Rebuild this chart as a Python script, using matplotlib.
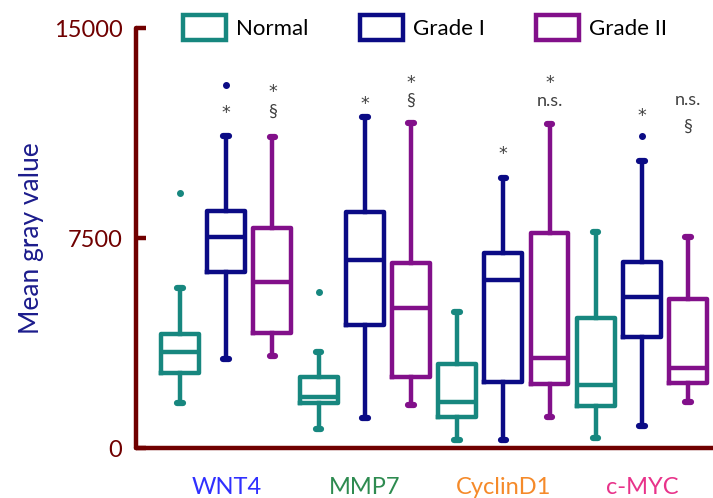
import matplotlib.pyplot as plt
from matplotlib.patches import Patch
import matplotlib.transforms as mtransforms

plt.rcParams['font.family'] = ['Lato', 'DejaVu Sans']

genes = ['WNT4', 'MMP7', 'CyclinD1', 'c-MYC']
gene_colors = ['#3030ff', '#2e8b50', '#f58a2a', '#e8338a']
groups = ['Normal', 'Grade I', 'Grade II']
group_colors = ['#17877f', '#0b0b85', '#82108a']

# box stats, order: WNT4 (N, GI, GII), MMP7 (...), CyclinD1 (...), c-MYC (...)
whislo = [1600, 3200, 3300, 700, 1070, 1540, 290, 290, 1100, 360, 790, 1640]
q1 = [2700, 6300, 4100, 1620, 4400, 2540, 1100, 2360, 2290, 1500, 3960, 2320]
med = [3430, 7540, 5930, 1820, 6710, 5000, 1640, 6000, 3210, 2250, 5390, 2860]
q3 = [4070, 8460, 7860, 2540, 8430, 6610, 3000, 6960, 7680, 4640, 6640, 5320]
whishi = [5710, 11140, 11110, 3430, 11820, 11610, 4860, 9640, 11570, 7710, 10250, 7540]
fliers = [[9100], [12960], [], [5570], [], [], [], [], [], [], [11140], []]

# significance marks above the boxes: (box index, text, y)
marks = [
    (1, '*', 12150),
    (2, '*', 12930), (2, '§', 12000),
    (4, '*', 12500),
    (5, '*', 13250), (5, '§', 12390),
    (7, '*', 10710),
    (8, '*', 13250), (8, 'n.s.', 12390),
    (10, '*', 12070),
    (11, 'n.s.', 12430), (11, '§', 11460),
]

fig = plt.figure(figsize=(7.13, 4.98), dpi=100)
ax = fig.add_axes([0.191, 0.1, 0.809, 0.8436])

axis_col = '#700000'
lw = 3.2

for i in range(12):
    c = group_colors[i % 3]
    st = [{'whislo': whislo[i], 'q1': q1[i], 'med': med[i], 'q3': q3[i],
           'whishi': whishi[i], 'fliers': fliers[i]}]
    ax.bxp(st, positions=[i + 1], widths=0.82, capwidths=0.12,
           boxprops=dict(color=c, linewidth=lw, solid_joinstyle='round'),
           whiskerprops=dict(color=c, linewidth=lw),
           capprops=dict(color=c, linewidth=4.5, solid_capstyle='round'),
           medianprops=dict(color=c, linewidth=lw),
           flierprops=dict(marker='o', markersize=4, markerfacecolor=c,
                           markeredgecolor=c))

# the asterisk glyph sits high in its line box, pull it down a bit
star_shift = mtransforms.ScaledTranslation(0, -4 / 72, fig.dpi_scale_trans)
for idx, txt, y in marks:
    if txt == '*':
        ax.text(idx + 1, y, txt, ha='center', va='center', fontsize=12.5,
                color='#404040', family='DejaVu Sans',
                transform=ax.transData + star_shift)
    else:
        ax.text(idx + 1, y, txt, ha='center', va='center', fontsize=13,
                color='#404040')

ax.set_xlim(0.05, 12.54)
ax.set_ylim(0, 15000)
ax.set_yticks([0, 7500, 15000])
ax.tick_params(axis='y', direction='in', length=7, width=lw, color=axis_col,
               labelcolor=axis_col, labelsize=17, pad=10)
ax.set_xticks([2, 5, 8, 11])
ax.set_xticklabels(genes, fontsize=17)
ax.tick_params(axis='x', length=0, pad=21)
for lab, c in zip(ax.get_xticklabels(), gene_colors):
    lab.set_color(c)

for s in ['top', 'right']:
    ax.spines[s].set_visible(False)
for s in ['left', 'bottom']:
    ax.spines[s].set_color(axis_col)
    ax.spines[s].set_linewidth(lw)
    ax.spines[s].set_capstyle('round')

ax.set_ylabel('Mean gray value', fontsize=19, color='#1c1c8c')
ax.yaxis.set_label_coords(-0.16, 0.5)

handles = [Patch(facecolor='white', edgecolor=c, linewidth=lw) for c in group_colors]
fig.legend(handles, groups, loc='center', bbox_to_anchor=(0.596, 0.944),
           ncol=3, frameon=False, fontsize=16, handlelength=1.95,
           handleheight=1.35, handletextpad=0.45, columnspacing=2.3)

fig.savefig('out.png', dpi=100)
